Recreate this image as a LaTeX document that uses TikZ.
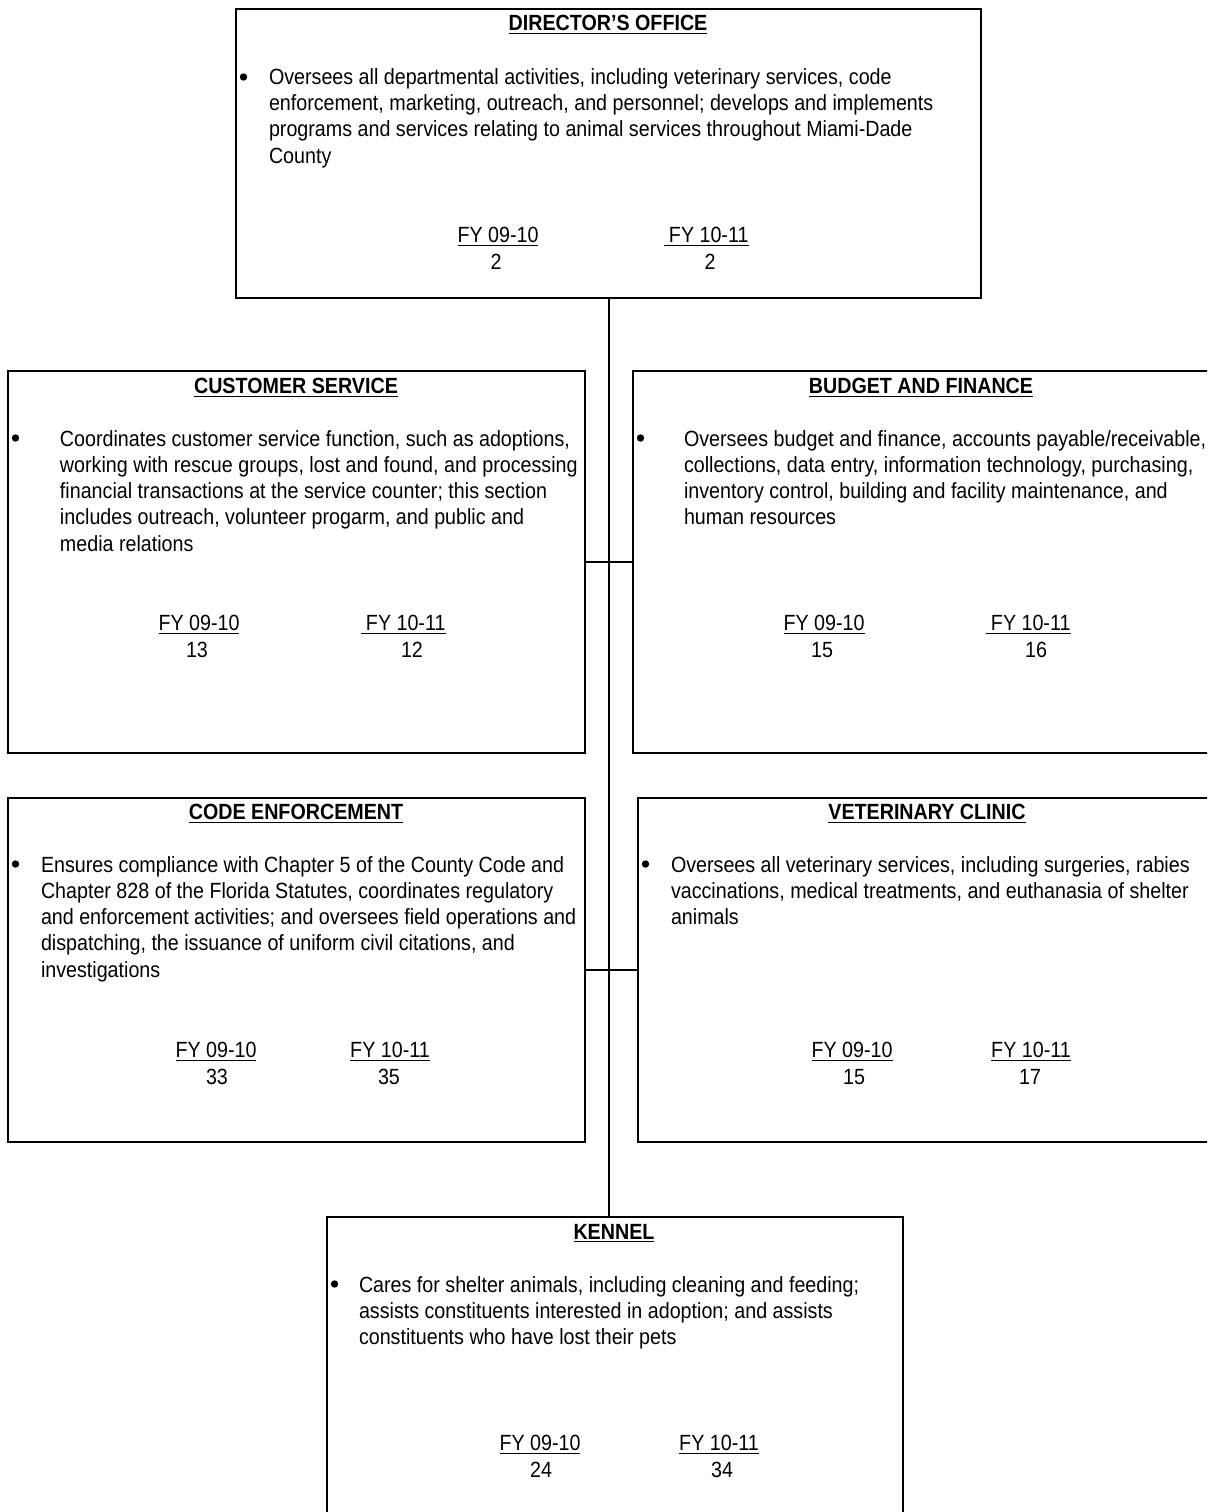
\documentclass[tikz,border=0pt]{standalone}
\usepackage{fontspec}
\setmainfont{Liberation Sans}[FakeStretch=0.895]
\usetikzlibrary{positioning}
\usetikzlibrary{fit}

\begin{document}
\begin{tikzpicture}[x=0.5pt, y=-0.5pt, line width=1pt, font=\fontsize{11}{13.15}\selectfont]
	\tikzstyle{unit}=[draw=black, rectangle, fill=none, inner sep=0pt, line width=1pt]
	\tikzstyle{head}=[anchor=base, inner sep=0pt, font=\fontsize{11}{13.15}\selectfont\bfseries]
	\tikzstyle{dot}=[circle, fill=black, draw=none, minimum size=3.7pt, inner sep=0pt]
	\tikzstyle{desc}=[anchor=base west, align=left, inner sep=0pt]
	\tikzstyle{fy}=[anchor=base, inner sep=0pt]

	\useasboundingbox (0,0) rectangle (1207,1512);
	\clip (0,0) rectangle (1207,1512);

	% boxes
	\node[unit, fit={(236,9) (981,298)}] (dir) {};
	\node[unit, fit={(8,371) (585,753)}] (cus) {};
	\node[unit, fit={(633,371) (1209,753)}] (bud) {};
	\node[unit, fit={(8,798) (585,1142)}] (cod) {};
	\node[unit, fit={(638,798) (1216,1142)}] (vet) {};
	\node[unit, fit={(327,1217) (903,1530)}] (ken) {};

	% director's office (desc placed at baseline of its last line)
	\node[head] (dirT) at (608,30) {\underline{DIRECTOR’S OFFICE}};
	\node[dot] (dirB) at (243.5,77) {};
	\node[desc] (dirD) at (268,163) {Oversees all departmental activities, including veterinary services, code\\
		enforcement, marketing, outreach, and personnel; develops and implements\\
		programs and services relating to animal services throughout Miami-Dade\\
		County};
	\node[fy] (dirF1) at (498,242) {\underline{FY 09-10}};
	\node[fy] (dirF2) at (706,242) {\underline{\ FY 10-11}};
	\node[fy] (dirN1) at (496,269) {2};
	\node[fy] (dirN2) at (710,269) {2};

	% customer service
	\node[head] (cusT) at (296,393) {\underline{CUSTOMER SERVICE}};
	\node[dot] (cusB) at (15.5,438) {};
	\node[desc] (cusD) at (59,551.2) {Coordinates customer service function, such as adoptions,\\
		working with rescue groups, lost and found, and processing\\
		financial transactions at the service counter; this section\\
		includes outreach, volunteer progarm, and public and\\
		media relations};
	\node[fy] (cusF1) at (199,630) {\underline{FY 09-10}};
	\node[fy] (cusF2) at (403,630) {\underline{\ FY 10-11}};
	\node[fy] (cusN1) at (197,657) {13};
	\node[fy] (cusN2) at (412,657) {12};

	% budget and finance
	\node[head] (budT) at (921,393) {\underline{BUDGET AND FINANCE}};
	\node[dot] (budB) at (640.5,438) {};
	\node[desc] (budD) at (683,524.9) {Oversees budget and finance, accounts payable/receivable,\\
		collections, data entry, information technology, purchasing,\\
		inventory control, building and facility maintenance, and\\
		human resources};
	\node[fy] (budF1) at (824,630) {\underline{FY 09-10}};
	\node[fy] (budF2) at (1028,630) {\underline{\ FY 10-11}};
	\node[fy] (budN1) at (822,657) {15};
	\node[fy] (budN2) at (1036,657) {16};

	% code enforcement
	\node[head] (codT) at (296,819) {\underline{CODE ENFORCEMENT}};
	\node[dot] (codB) at (15.5,864) {};
	\node[desc] (codD) at (40,977.2) {Ensures compliance with Chapter 5 of the County Code and\\
		Chapter 828 of the Florida Statutes, coordinates regulatory\\
		and enforcement activities; and oversees field operations and\\
		dispatching, the issuance of uniform civil citations, and\\
		investigations};
	\node[fy] (codF1) at (216,1057) {\underline{FY 09-10}};
	\node[fy] (codF2) at (390,1057) {\underline{FY 10-11}};
	\node[fy] (codN1) at (217,1084) {33};
	\node[fy] (codN2) at (389,1084) {35};

	% veterinary clinic
	\node[head] (vetT) at (927,819) {\underline{VETERINARY CLINIC}};
	\node[dot] (vetB) at (645.5,864) {};
	\node[desc] (vetD) at (670,924.6) {Oversees all veterinary services, including surgeries, rabies\\
		vaccinations, medical treatments, and euthanasia of shelter\\
		animals};
	\node[fy] (vetF1) at (852,1057) {\underline{FY 09-10}};
	\node[fy] (vetF2) at (1031,1057) {\underline{FY 10-11}};
	\node[fy] (vetN1) at (854,1084) {15};
	\node[fy] (vetN2) at (1030,1084) {17};

	% kennel
	\node[head] (kenT) at (614,1239) {\underline{KENNEL}};
	\node[dot] (kenB) at (334.5,1284) {};
	\node[desc] (kenD) at (358,1344.6) {Cares for shelter animals, including cleaning and feeding;\\
		assists constituents interested in adoption; and assists\\
		constituents who have lost their pets};
	\node[fy] (kenF1) at (540,1450) {\underline{FY 09-10}};
	\node[fy] (kenF2) at (719,1450) {\underline{FY 10-11}};
	\node[fy] (kenN1) at (541,1477) {24};
	\node[fy] (kenN2) at (722,1477) {34};

	% connectors
	\draw (dir.south) -- (dir.south |- ken.north);
	\draw (cus.east) -- (bud.west);
	\draw (cod.east) -- (vet.west);
\end{tikzpicture}
\end{document}
